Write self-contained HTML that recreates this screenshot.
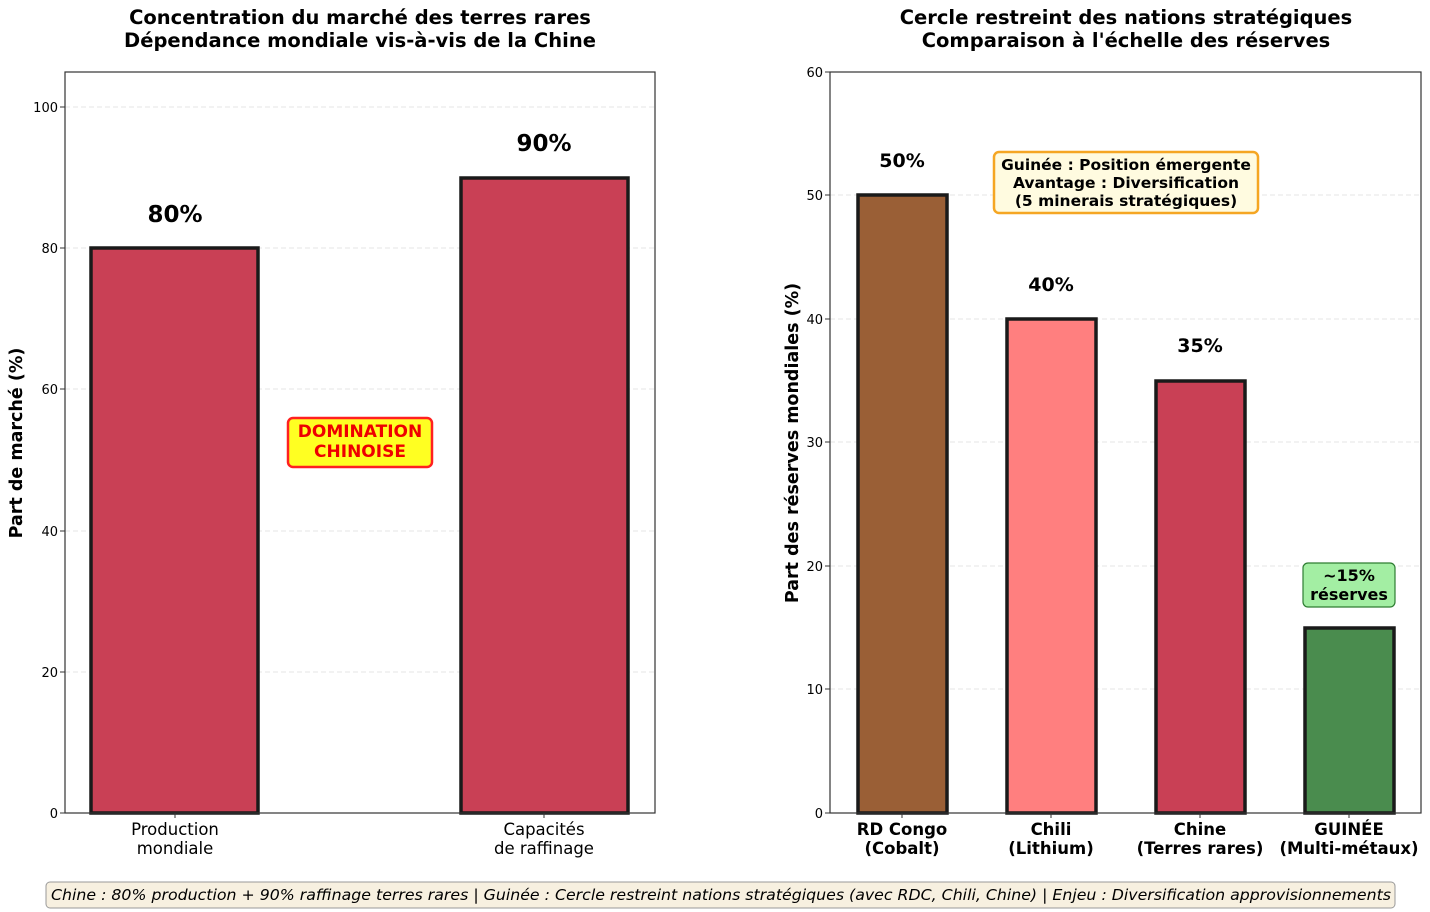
<!DOCTYPE html>
<html><head><meta charset="utf-8"><style>body{margin:0;background:#fff}svg{display:block}text{font-family:"DejaVu Sans","Liberation Sans",sans-serif}</style></head><body>
<svg width="1430" height="912" viewBox="0 0 1430 912">
<g font-weight="bold" font-size="19.5" text-anchor="middle" fill="#000">
<text x="360" y="24">Concentration du marché des terres rares</text>
<text x="360" y="47">Dépendance mondiale vis-à-vis de la Chine</text>
<text x="1126" y="24">Cercle restreint des nations stratégiques</text>
<text x="1126" y="47">Comparaison à l'échelle des réserves</text>
</g>
<g stroke="#e6e6e6" stroke-dasharray="5,3">
<line x1="65" x2="655" y1="107" y2="107"/><line x1="65" x2="655" y1="248" y2="248"/><line x1="65" x2="655" y1="389" y2="389"/><line x1="65" x2="655" y1="531" y2="531"/><line x1="65" x2="655" y1="672" y2="672"/>
<line x1="830" x2="1421" y1="195" y2="195"/><line x1="830" x2="1421" y1="319" y2="319"/><line x1="830" x2="1421" y1="442" y2="442"/><line x1="830" x2="1421" y1="566" y2="566"/><line x1="830" x2="1421" y1="689" y2="689"/>
</g>
<g fill="#c94055" stroke="#1a1a1a" stroke-width="3.5">
<rect x="91" y="248" width="167" height="565"/>
<rect x="461" y="178" width="167" height="635"/>
<rect x="858" y="195" width="89" height="618" fill="#9a5f36"/>
<rect x="1007" y="319" width="89" height="494" fill="#ff7f7f"/>
<rect x="1156" y="381" width="89" height="432"/>
<rect x="1305" y="628" width="89" height="185" fill="#4a8c4e"/>
</g>
<rect x="65" y="72" width="590" height="741" fill="none" stroke="#333" stroke-width="1.2"/>
<rect x="830" y="72" width="591" height="741" fill="none" stroke="#333" stroke-width="1.2"/>
<g font-size="13" text-anchor="end" fill="#000">
<text x="58" y="818">0</text><text x="58" y="677">20</text><text x="58" y="536">40</text><text x="58" y="394">60</text><text x="58" y="253">80</text><text x="58" y="112">100</text>
<text x="823" y="818">0</text><text x="823" y="694">10</text><text x="823" y="571">20</text><text x="823" y="447">30</text><text x="823" y="324">40</text><text x="823" y="200">50</text><text x="823" y="77">60</text>
</g>
<g stroke="#333"><line x1="60" x2="65" y1="813" y2="813"/><line x1="60" x2="65" y1="672" y2="672"/><line x1="60" x2="65" y1="531" y2="531"/><line x1="60" x2="65" y1="389" y2="389"/><line x1="60" x2="65" y1="248" y2="248"/><line x1="60" x2="65" y1="107" y2="107"/>
<line x1="825" x2="830" y1="813" y2="813"/><line x1="825" x2="830" y1="689" y2="689"/><line x1="825" x2="830" y1="566" y2="566"/><line x1="825" x2="830" y1="442" y2="442"/><line x1="825" x2="830" y1="319" y2="319"/><line x1="825" x2="830" y1="195" y2="195"/><line x1="825" x2="830" y1="72" y2="72"/>
<line x1="175" x2="175" y1="813" y2="818"/><line x1="544" x2="544" y1="813" y2="818"/><line x1="902" x2="902" y1="813" y2="818"/><line x1="1051" x2="1051" y1="813" y2="818"/><line x1="1200" x2="1200" y1="813" y2="818"/><line x1="1349" x2="1349" y1="813" y2="818"/></g>
<g font-size="16.5" text-anchor="middle">
<text x="175" y="835">Production</text><text x="175" y="854">mondiale</text>
<text x="544" y="835">Capacités</text><text x="544" y="854">de raffinage</text>
</g>
<g font-size="16.5" font-weight="bold" text-anchor="middle">
<text x="902" y="835">RD Congo</text><text x="902" y="854">(Cobalt)</text>
<text x="1051" y="835">Chili</text><text x="1051" y="854">(Lithium)</text>
<text x="1200" y="835">Chine</text><text x="1200" y="854">(Terres rares)</text>
<text x="1349" y="835">GUINÉE</text><text x="1349" y="854">(Multi-métaux)</text>
</g>
<text transform="translate(22,443) rotate(-90)" font-size="17.5" font-weight="bold" text-anchor="middle">Part de marché (%)</text>
<text transform="translate(798,443) rotate(-90)" font-size="17.5" font-weight="bold" text-anchor="middle">Part des réserves mondiales (%)</text>
<g font-weight="bold" text-anchor="middle">
<text x="175" y="222" font-size="23">80%</text><text x="544" y="151" font-size="23">90%</text>
<text x="902" y="167" font-size="19">50%</text><text x="1051" y="291" font-size="19">40%</text><text x="1200" y="352" font-size="19">35%</text>
</g>
<rect x="288" y="418" width="144" height="49" rx="5" fill="#ffff22" stroke="#ff2020" stroke-width="2.5"/>
<g font-size="17" font-weight="bold" fill="#ee0000" text-anchor="middle"><text x="360" y="437">DOMINATION</text><text x="360" y="457">CHINOISE</text></g>
<rect x="994" y="152" width="264" height="61" rx="5" fill="#fffbe0" stroke="#f5a623" stroke-width="2.5"/>
<g font-size="15.5" font-weight="bold" text-anchor="middle"><text x="1126" y="170">Guinée : Position émergente</text><text x="1126" y="188">Avantage : Diversification</text><text x="1126" y="206">(5 minerais stratégiques)</text></g>
<rect x="1303" y="563" width="92" height="44" rx="5" fill="#a3eea3" stroke="#2e7d32" stroke-width="1.2"/>
<g font-size="16" font-weight="bold" text-anchor="middle"><text x="1349" y="581">~15%</text><text x="1349" y="600">réserves</text></g>
<rect x="46" y="882" width="1349" height="26" rx="4" fill="#f7f0e0" stroke="#999" stroke-width="1"/>
<text x="721" y="900" font-size="15.5" font-style="italic" text-anchor="middle" textLength="1340" lengthAdjust="spacingAndGlyphs">Chine : 80% production + 90% raffinage terres rares | Guinée : Cercle restreint nations stratégiques (avec RDC, Chili, Chine) | Enjeu : Diversification approvisionnements</text>
</svg>
</body></html>
